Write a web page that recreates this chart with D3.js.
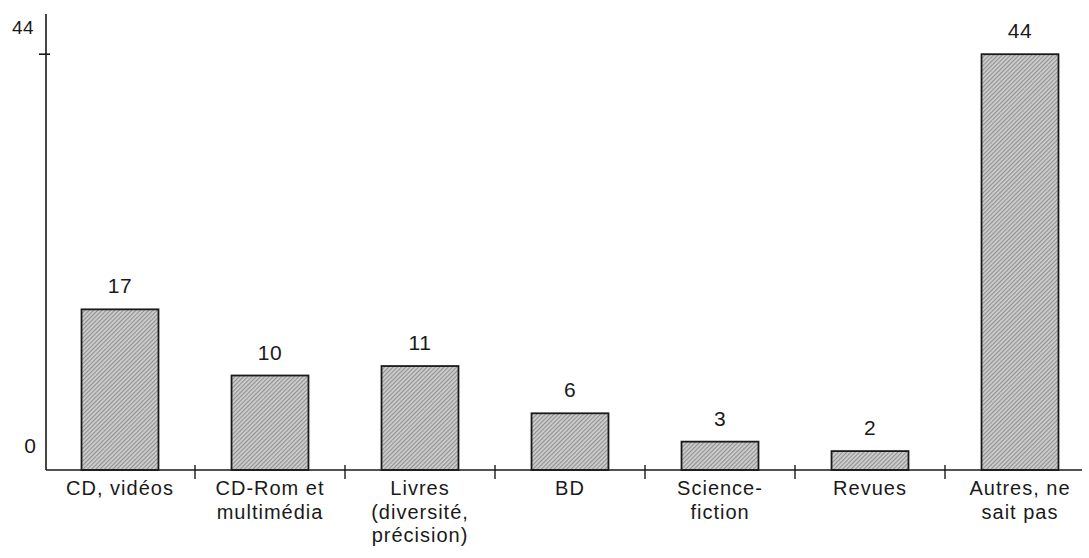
<!DOCTYPE html>
<html>
<head>
<meta charset="utf-8">
<script src="https://cdn.jsdelivr.net/npm/d3@7"></script>
<style>
  html, body { margin: 0; padding: 0; background: #fff; }
  svg { display: block; font-family: "Liberation Sans", Arial, sans-serif; }
</style>
</head>
<body>
<svg id="chart" width="1089" height="558"></svg>
<script>
// Categories (multi-line labels) and their counts
const categories = [
  ["CD, vidéos"],
  ["CD-Rom et", "multimédia"],
  ["Livres", "(diversité,", "précision)"],
  ["BD"],
  ["Science-", "fiction"],
  ["Revues"],
  ["Autres, ne", "sait pas"]
];
const values = [17, 10, 11, 6, 3, 2, 44];
const yTickLabels = ["0", "44"];

const keys = categories.map(c => c.join(" "));

const svg = d3.select("#chart");

// Hatched grey fill used by the bars
const defs = svg.append("defs");
const pat = defs.append("pattern")
  .attr("id", "hatch")
  .attr("patternUnits", "userSpaceOnUse")
  .attr("width", 3).attr("height", 3)
  .attr("patternTransform", "rotate(-45)");
pat.append("rect").attr("width", 3).attr("height", 3).attr("fill", "#cdcdcd");
pat.append("rect").attr("width", 3).attr("height", 1.1).attr("fill", "#909090");

const baseY = 470, topY = 14, leftX = 46, rightX = 1082;

const x = d3.scaleBand()
  .domain(keys)
  .range([45, 1095])
  .paddingInner(0.487)
  .paddingOuter(0.2435);

const y = d3.scaleLinear()
  .domain([0, 44])
  .range([baseY, baseY - 44 * 9.45]);

const ink = "#1a1a1a";

// Bars
svg.append("g").selectAll("rect")
  .data(values)
  .join("rect")
  .attr("x", (d, i) => x(keys[i]))
  .attr("y", d => y(d))
  .attr("width", x.bandwidth())
  .attr("height", d => y(0) - y(d))
  .attr("fill", "url(#hatch)")
  .attr("stroke", ink)
  .attr("stroke-width", 1.8);

// Value labels above bars
svg.append("g").selectAll("text")
  .data(values)
  .join("text")
  .attr("x", (d, i) => x(keys[i]) + x.bandwidth() / 2)
  .attr("y", d => y(d) - 16)
  .attr("text-anchor", "middle")
  .attr("font-size", 21)
  .attr("letter-spacing", 0.5)
  .attr("fill", ink)
  .text(d => d);

// Axes lines
svg.append("line")
  .attr("x1", leftX).attr("x2", leftX)
  .attr("y1", topY).attr("y2", baseY)
  .attr("stroke", ink).attr("stroke-width", 1.6);
svg.append("line")
  .attr("x1", leftX).attr("x2", rightX)
  .attr("y1", baseY).attr("y2", baseY)
  .attr("stroke", ink).attr("stroke-width", 1.6);

// Y tick at the maximum value
svg.append("line")
  .attr("x1", leftX - 7).attr("x2", leftX + 4)
  .attr("y1", y(44)).attr("y2", y(44))
  .attr("stroke", ink).attr("stroke-width", 1.6);

// Y tick labels
svg.append("text")
  .attr("x", 30).attr("y", 453)
  .attr("text-anchor", "middle").attr("font-size", 21).attr("fill", ink)
  .text(yTickLabels[0]);
svg.append("text")
  .attr("x", 23).attr("y", 34)
  .attr("text-anchor", "middle").attr("font-size", 19).attr("letter-spacing", 0.5).attr("fill", ink)
  .text(yTickLabels[1]);

// Category separators on the x axis
const step = x.step();
svg.append("g").selectAll("line")
  .data(keys.slice(0, -1))
  .join("line")
  .attr("x1", d => x(d) + x.bandwidth() + (step - x.bandwidth()) / 2)
  .attr("x2", d => x(d) + x.bandwidth() + (step - x.bandwidth()) / 2)
  .attr("y1", baseY - 5).attr("y2", baseY + 9)
  .attr("stroke", ink).attr("stroke-width", 1.4);

// Category labels
const lab = svg.append("g").selectAll("text")
  .data(categories)
  .join("text")
  .attr("text-anchor", "middle")
  .attr("font-size", 20)
  .attr("letter-spacing", 1)
  .attr("fill", ink)
  .attr("transform", (d, i) => `translate(${x(keys[i]) + x.bandwidth() / 2},0)`);
lab.selectAll("tspan")
  .data(d => d)
  .join("tspan")
  .attr("x", 0)
  .attr("y", (d, j) => 495 + j * 23.5)
  .text(d => d);
</script>
</body>
</html>
